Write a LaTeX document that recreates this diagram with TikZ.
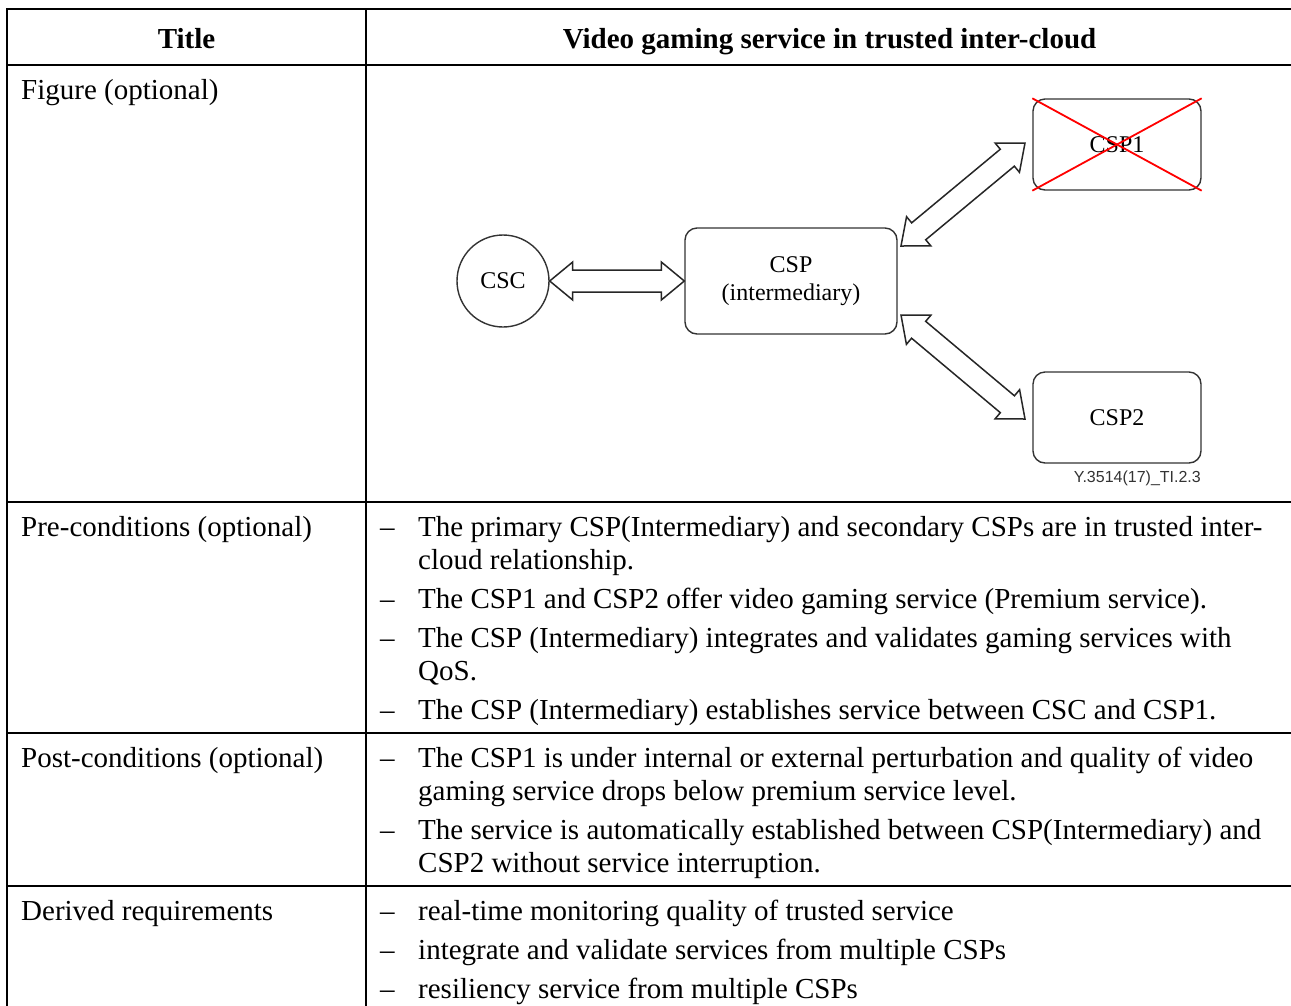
\documentclass[tikz,border=0pt]{standalone}
\usepackage{fontspec}
\setmainfont{Liberation Serif}
\newfontfamily\tagfont{Liberation Sans}
\usetikzlibrary{calc}

\newcommand{\bodysize}{\fontsize{29}{33}\selectfont}
\newcommand{\figsize}{\fontsize{24}{28}\selectfont}

\tikzset{
	rule/.style={line width=2.4pt, line cap=rect},
	head/.style={anchor=base, inner sep=0pt, font=\bodysize\bfseries},
	cell/.style={anchor=base west, inner sep=0pt, font=\bodysize},
	box/.style={rectangle, rounded corners=12pt, draw=black!80, line width=1.4pt, font=\figsize, align=center},
	twoway/.style={draw=black!85, line width=1.5pt, fill=white, line join=miter},
	cross/.style={red, line width=1.8pt}
}

\newcommand{\twoway}[2]{%
	\draw[twoway] let \p1=($(#2)-(#1)$), \n1={veclen(\x1,\y1)}, \n2={atan2(\y1,\x1)} in
		[shift={(#1)}, rotate=\n2]
		(0pt,0pt) -- (23pt,19pt) -- (23pt,11pt) -- (\n1-23pt,11pt) -- (\n1-23pt,19pt) -- (\n1,0pt)
		-- (\n1-23pt,-19pt) -- (\n1-23pt,-11pt) -- (23pt,-11pt) -- (23pt,-19pt) -- cycle;}

\begin{document}
\begin{tikzpicture}[x=1pt, y=-1pt]
	\useasboundingbox[fill=white] (0,0) rectangle (1291,1005);

	\draw[rule] (7,9) -- (1291,9);
	\draw[rule] (7,65) -- (1291,65);
	\draw[rule] (7,502) -- (1291,502);
	\draw[rule] (7,733) -- (1291,733);
	\draw[rule] (7,886) -- (1291,886);
	\draw[rule] (7,9) -- (7,1010);
	\draw[rule] (366,9) -- (366,1010);

	\node (title)	at (186.5, 48)	[head]	{Title};
	\node (usecase)	at (829.5, 48)	[head]	{Video gaming service in trusted inter-cloud};

	\node (figlbl)	at (21,  99)	[cell]	{Figure (optional)};
	\node (prelbl)	at (21, 536)	[cell]	{Pre-conditions (optional)};
	\node (postlbl)	at (21, 767)	[cell]	{Post-conditions (optional)};
	\node (derlbl)	at (21, 920)	[cell]	{Derived requirements};

	\node (csc)	at ( 503, 281)	[circle, draw=black!80, line width=1.4pt, minimum size=92, inner sep=0pt, font=\figsize]	{CSC};
	\node (mid)	at ( 791, 281)	[box, minimum width=212, minimum height=106]	{CSP\\(intermediary)};
	\node (csp1)	at (1117, 144.5)	[box, minimum width=168, minimum height=91]	{CSP1};
	\node (csp2)	at (1117, 417.5)	[box, minimum width=168, minimum height=91]	{CSP2};
	\node (tag)	at (1201, 482)	[anchor=base east, inner sep=0pt, font=\tagfont\fontsize{16}{18}\selectfont, text=black!80]	{Y.3514(17)\_TI.2.3};

	\draw[cross] (csp1.north west) -- (csp1.south east);
	\draw[cross] (csp1.south west) -- (csp1.north east);

	\coordinate (up1) at ( 901, 246);
	\coordinate (up2) at (1025, 143);
	\coordinate (dn1) at ( 901, 315);
	\coordinate (dn2) at (1025, 419);

	\twoway{csc.east}{mid.west}
	\twoway{up1}{up2}
	\twoway{dn1}{dn2}

	\node (pre1d)	at (380, 536)	[cell]	{–};
	\node (pre1a)	at (418, 536)	[cell]	{The primary CSP(Intermediary) and secondary CSPs are in trusted inter-};
	\node (pre1b)	at (418, 569)	[cell]	{cloud relationship.};
	\node (pre2d)	at (380, 608)	[cell]	{–};
	\node (pre2a)	at (418, 608)	[cell]	{The CSP1 and CSP2 offer video gaming service (Premium service).};
	\node (pre3d)	at (380, 647)	[cell]	{–};
	\node (pre3a)	at (418, 647)	[cell]	{The CSP (Intermediary) integrates and validates gaming services with};
	\node (pre3b)	at (418, 680)	[cell]	{QoS.};
	\node (pre4d)	at (380, 719)	[cell]	{–};
	\node (pre4a)	at (418, 719)	[cell]	{The CSP (Intermediary) establishes service between CSC and CSP1.};

	\node (post1d)	at (380, 767)	[cell]	{–};
	\node (post1a)	at (418, 767)	[cell]	{The CSP1 is under internal or external perturbation and quality of video};
	\node (post1b)	at (418, 800)	[cell]	{gaming service drops below premium service level.};
	\node (post2d)	at (380, 839)	[cell]	{–};
	\node (post2a)	at (418, 839)	[cell]	{The service is automatically established between CSP(Intermediary) and};
	\node (post2b)	at (418, 872)	[cell]	{CSP2 without service interruption.};

	\node (der1d)	at (380, 920)	[cell]	{–};
	\node (der1a)	at (418, 920)	[cell]	{real-time monitoring quality of trusted service};
	\node (der2d)	at (380, 959)	[cell]	{–};
	\node (der2a)	at (418, 959)	[cell]	{integrate and validate services from multiple CSPs};
	\node (der3d)	at (380, 998)	[cell]	{–};
	\node (der3a)	at (418, 998)	[cell]	{resiliency service from multiple CSPs};
\end{tikzpicture}
\end{document}
